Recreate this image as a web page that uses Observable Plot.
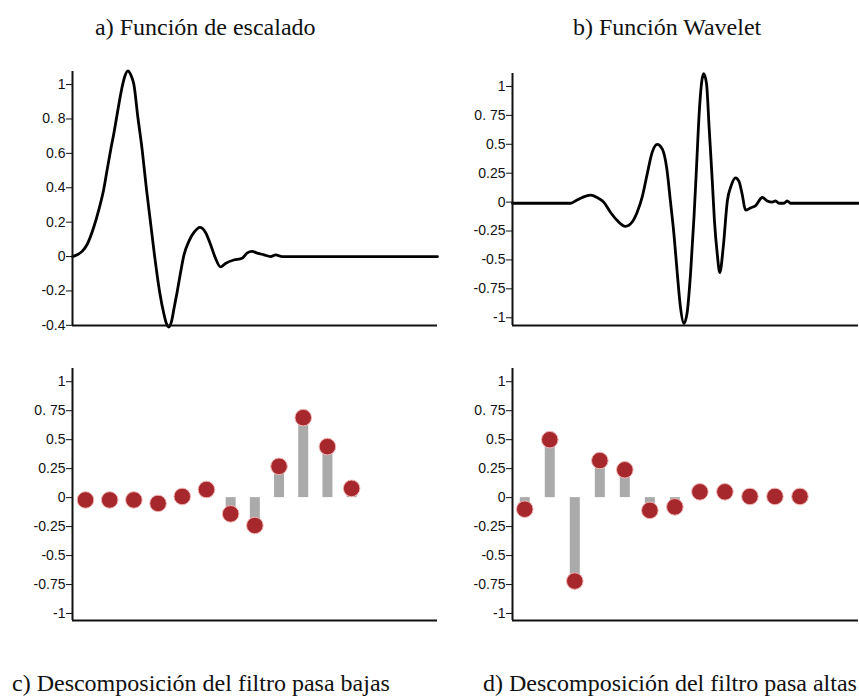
<!DOCTYPE html>
<html>
<head>
<meta charset="utf-8">
<script src="https://cdn.jsdelivr.net/npm/d3@7"></script>
<script src="https://cdn.jsdelivr.net/npm/@observablehq/plot@0.6"></script>
<style>
  body { margin: 0; background: #fff; }
  #wrap { position: relative; width: 859px; height: 700px; overflow: hidden; background: #fff; }
  .panel { position: absolute; }
  .cap { position: absolute; font-family: "Liberation Serif", "Times New Roman", serif; font-size: 24px; line-height: 24px; color: #111; white-space: nowrap; }
</style>
</head>
<body>
<div id="wrap">
  <div class="cap" style="left:95px;top:15px">a) Función de escalado</div>
  <div class="cap" style="left:573px;top:15px">b) Función Wavelet</div>
  <div class="panel" id="pa" style="left:0;top:60px"></div>
  <div class="panel" id="pb" style="left:440px;top:60px"></div>
  <div class="panel" id="pc" style="left:0;top:355px"></div>
  <div class="panel" id="pd" style="left:440px;top:355px"></div>
  <div class="cap" style="left:12px;top:671px">c) Descomposición del filtro pasa bajas</div>
  <div class="cap" style="left:483px;top:671px">d) Descomposición del filtro pasa altas</div>
</div>
<script>
// ---- Data ----
// a) scaling function (t, value)
const phiT = [0, 0.14, 0.29, 0.44, 0.64, 0.79, 0.94, 1.04, 1.15, 1.25, 1.33, 1.42, 1.50, 1.58, 1.67, 1.75, 1.85, 1.97, 2.10, 2.23, 2.35, 2.47, 2.63, 2.75, 2.83, 2.90, 2.98, 3.07, 3.15, 3.25, 3.36, 3.51, 3.66, 3.84, 4.01, 4.16, 4.31, 4.46, 4.61, 4.86, 5.11, 5.26, 5.41, 5.57, 5.77, 5.97, 6.12, 6.32, 11];
const phiV = [0, 0.01, 0.03, 0.07, 0.17, 0.27, 0.39, 0.50, 0.62, 0.72, 0.81, 0.91, 0.99, 1.05, 1.08, 1.06, 1.00, 0.81, 0.62, 0.39, 0.20, 0.01, -0.21, -0.33, -0.39, -0.41, -0.38, -0.29, -0.21, -0.10, 0.01, 0.09, 0.14, 0.17, 0.14, 0.07, -0.01, -0.06, -0.04, -0.02, -0.01, 0.02, 0.03, 0.02, 0.01, 0, 0.01, 0, 0];

// b) wavelet function (t, value)
const psiT = [0, 1.84, 2.00, 2.22, 2.48, 2.69, 2.90, 3.12, 3.33, 3.59, 3.81, 3.96, 4.12, 4.28, 4.44, 4.60, 4.76, 4.90, 5.02, 5.13, 5.24, 5.34, 5.45, 5.55, 5.66, 5.77, 5.85, 5.94, 6.02, 6.08, 6.17, 6.25, 6.35, 6.42, 6.51, 6.59, 6.70, 6.83, 6.95, 7.09, 7.20, 7.30, 7.41, 7.57, 7.73, 7.94, 8.10, 8.26, 8.36, 8.47, 8.63, 8.73, 8.84, 11];
const psiV = [-0.01, -0.01, 0.01, 0.04, 0.06, 0.04, 0, -0.09, -0.16, -0.21, -0.17, -0.09, 0.04, 0.24, 0.43, 0.50, 0.46, 0.30, 0.01, -0.27, -0.62, -0.91, -1.05, -0.96, -0.62, -0.13, 0.30, 0.79, 1.05, 1.11, 1.02, 0.65, 0.19, -0.16, -0.45, -0.61, -0.39, 0.01, 0.14, 0.21, 0.18, 0.07, -0.07, -0.05, -0.03, 0.04, 0.01, 0, 0.01, -0.01, -0.01, 0.01, -0.01, -0.01];

// c) / d) decomposition filter taps
const taps = [0, 1, 2, 3, 4, 5, 6, 7, 8, 9, 10, 11];
const lowPass = [-0.02, -0.02, -0.02, -0.05, 0.01, 0.07, -0.14, -0.24, 0.27, 0.69, 0.44, 0.08];
const highPass = [-0.10, 0.50, -0.72, 0.32, 0.24, -0.11, -0.08, 0.05, 0.05, 0.01, 0.01, 0.01];

// tick labels
const ticksA = [-0.4, -0.2, 0, 0.2, 0.4, 0.6, 0.8, 1];
const labelsA = ["-0.4", "-0.2", "0", "0.2", "0.4", "0.6", "0. 8", "1"];
const ticksQ = [-1, -0.75, -0.5, -0.25, 0, 0.25, 0.5, 0.75, 1];
const labelsQ = ["-1", "-0.75", "-0.5", "-0.25", "0", "0.25", "0.5", "0. 75", "1"];

// ---- build ----
const zip = (xs, ys, kx, ky) => xs.map((x, i) => ({[kx]: x, [ky]: ys[i]}));
const phi = zip(phiT, phiV, "t", "v");
const psi = zip(psiT, psiV, "t", "v");
const lo = zip(taps, lowPass, "n", "v");
const hi = zip(taps, highPass, "n", "v");

function panel(el, {width, height, mt, mb, ml, mr, xDomain, yDomain, ticks, labels, marks}) {
  const chart = Plot.plot({
    width, height,
    marginTop: mt, marginBottom: mb, marginLeft: ml, marginRight: mr,
    style: {fontFamily: "'Liberation Sans', Arial, sans-serif", fontSize: "14px", color: "#111", background: "transparent", overflow: "visible"},
    x: {domain: xDomain, axis: null},
    y: {domain: yDomain, ticks, tickFormat: d => labels[ticks.indexOf(d)], tickSize: 6, tickPadding: 1, label: null},
    marks: [
      ...marks,
      Plot.ruleX([xDomain[0]], {stroke: "#111", strokeWidth: 2}),
      Plot.ruleY([yDomain[0]], {stroke: "#111", strokeWidth: 2})
    ]
  });
  document.getElementById(el).appendChild(chart);
}

const lineStyle = {x: "t", y: "v", curve: "monotone-x", stroke: "#000", strokeWidth: 2.8, strokeLinejoin: "round"};
const stemMarks = data => [
  Plot.ruleX(data, {x: "n", y1: 0, y2: "v", stroke: "#aaaaaa", strokeWidth: 10}),
  Plot.dot(data, {x: "n", y: "v", r: 8.3, fill: "#a6282c", stroke: "#f2b6b6", strokeWidth: 1})
];

panel("pa", {width: 450, height: 280, mt: 11, mb: 15, ml: 72, mr: 13,
  xDomain: [0, 11], yDomain: [-0.401, 1.076], ticks: ticksA, labels: labelsA,
  marks: [Plot.line(phi, lineStyle)]});

panel("pb", {width: 419, height: 280, mt: 13, mb: 15, ml: 72, mr: 1,
  xDomain: [0, 11], yDomain: [-1.067, 1.112], ticks: ticksQ, labels: labelsQ,
  marks: [Plot.line(psi, lineStyle)]});

panel("pc", {width: 450, height: 280, mt: 13, mb: 15, ml: 72, mr: 13,
  xDomain: [-0.537, 14.55], yDomain: [-1.06, 1.114], ticks: ticksQ, labels: labelsQ,
  marks: stemMarks(lo)});

panel("pd", {width: 419, height: 280, mt: 13, mb: 15, ml: 72, mr: 1,
  xDomain: [-0.49, 13.34], yDomain: [-1.06, 1.114], ticks: ticksQ, labels: labelsQ,
  marks: stemMarks(hi)});
</script>
</body>
</html>
